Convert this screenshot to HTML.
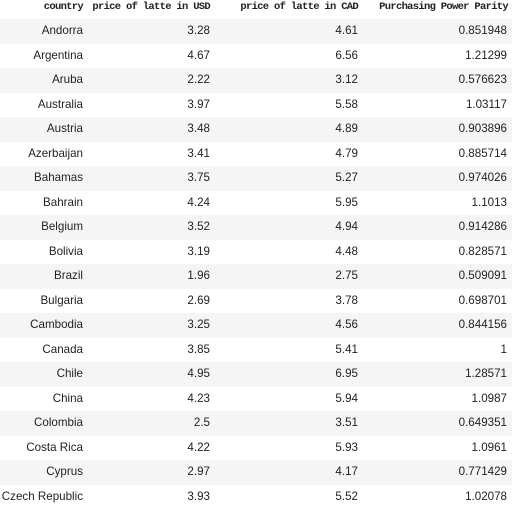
<!DOCTYPE html>
<html><head><meta charset="utf-8"><style>
body{margin:0;width:512px;height:510px;background:#fff;overflow:hidden;font-family:"Liberation Sans",Arial,sans-serif;font-size:11.6px;color:#222}
.h{position:absolute;top:0;height:19px;line-height:15px;font-family:"Liberation Mono",monospace;font-size:10.5px;letter-spacing:-0.7px;font-weight:bold;color:#222;border-bottom:1px solid #e6e6e6;width:512px;left:0}
.h span,.r span{position:absolute;text-align:right;white-space:nowrap}
.r{position:absolute;left:0;width:512px;height:24.5px;line-height:24px}
.r.g{background:#f5f5f5}
</style></head><body>
<div class="h">
<span style="right:429px">country</span>
<span style="right:302px">price of latte in USD</span>
<span style="right:154px">price of latte in CAD</span>
<span style="right:4px">Purchasing Power Parity</span>
</div>
<div id="rows"></div>
<script>
const countries=["Andorra","Argentina","Aruba","Australia","Austria","Azerbaijan","Bahamas","Bahrain","Belgium","Bolivia","Brazil","Bulgaria","Cambodia","Canada","Chile","China","Colombia","Costa Rica","Cyprus","Czech Republic"];
const usd=["3.28","4.67","2.22","3.97","3.48","3.41","3.75","4.24","3.52","3.19","1.96","2.69","3.25","3.85","4.95","4.23","2.5","4.22","2.97","3.93"];
const cad=["4.61","6.56","3.12","5.58","4.89","4.79","5.27","5.95","4.94","4.48","2.75","3.78","4.56","5.41","6.95","5.94","3.51","5.93","4.17","5.52"];
const ppp=["0.851948","1.21299","0.576623","1.03117","0.903896","0.885714","0.974026","1.1013","0.914286","0.828571","0.509091","0.698701","0.844156","1","1.28571","1.0987","0.649351","1.0961","0.771429","1.02078"];
const rows=document.getElementById('rows');
const rights=[429,302,154,5];
countries.forEach((c,i)=>{
 const r=document.createElement('div');
 r.className='r'+(i%2===0?' g':'');
 r.style.top=(19+i*24.5)+'px';
 
 
 [c,usd[i],cad[i],ppp[i]].forEach((v,j)=>{
  const s=document.createElement('span');
  s.style.right=rights[j]+'px';
  s.textContent=v;
  
  
  r.appendChild(s);
 });
 rows.appendChild(r);
});
</script>
</body></html>
